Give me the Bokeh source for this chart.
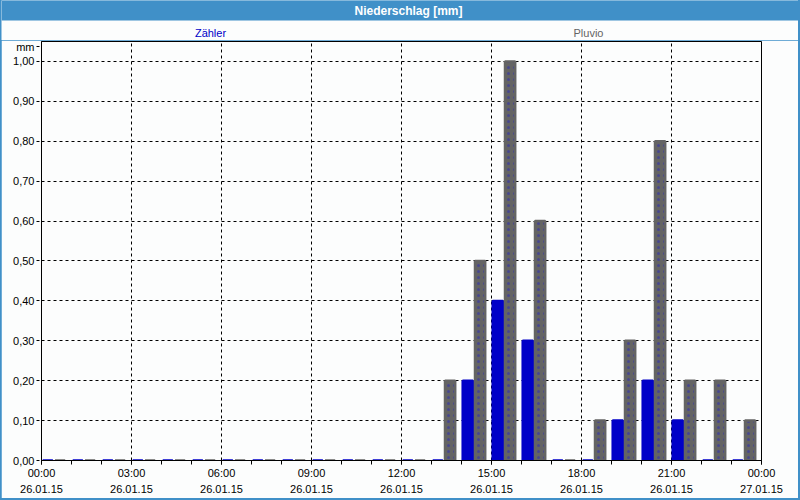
from bokeh.plotting import figure
from bokeh.models import ColumnDataSource, FixedTicker
from bokeh.layouts import column
from bokeh.embed import file_html
from bokeh.resources import INLINE
from bokeh.core.properties import value

# ---- data ----
hours = [0, 1, 2, 3, 4, 5, 6, 7, 8, 9, 10, 11, 12, 13, 14, 15, 16, 17, 18, 19, 20, 21, 22, 23]
zaehler = [0.0, 0.0, 0.0, 0.0, 0.0, 0.0, 0.0, 0.0, 0.0, 0.0, 0.0, 0.0, 0.0, 0.0,
           0.2, 0.4, 0.3, 0.0, 0.0, 0.1, 0.2, 0.1, 0.0, 0.0]
pluvio = [0.0, 0.0, 0.0, 0.0, 0.0, 0.0, 0.0, 0.0, 0.0, 0.0, 0.0, 0.0, 0.0,
          0.2, 0.5, 1.0, 0.6, 0.0, 0.1, 0.3, 0.8, 0.2, 0.2, 0.1]
x_ticks = [0, 3, 6, 9, 12, 15, 18, 21, 24]
x_tick_labels = ["00:00\n26.01.15", "03:00\n26.01.15", "06:00\n26.01.15", "09:00\n26.01.15",
                 "12:00\n26.01.15", "15:00\n26.01.15", "18:00\n26.01.15", "21:00\n26.01.15",
                 "00:00\n27.01.15"]
y_ticks = [0.0, 0.1, 0.2, 0.3, 0.4, 0.5, 0.6, 0.7, 0.8, 0.9, 1.0]
y_tick_labels = ["0,00", "0,10", "0,20", "0,30", "0,40", "0,50", "0,60", "0,70", "0,80", "0,90", "1,00"]
series_names = ["Zähler", "Pluvio"]
title_text = "Niederschlag [mm]"
unit_text = "mm"
unit_pos = 1.038   # where the unit caption sits on the value axis

FONT = "Liberation Sans"
BLUE = "#0000c8"
GRAY = "#646464"
BG = "#fcfdfd"
BAR_BLUE = "#4090c8"

# ---- header (title bar + series labels) ----
h = figure(width=797, height=40, x_range=(1, 798), y_range=(0, 40), title=None,
           output_backend="svg", toolbar_location=None,
           min_border=0, background_fill_color=BG, border_fill_color=BG)
h.frame_align = False
h.margin = (0, 2, 0, 1)
h.axis.visible = False
h.grid.visible = False
h.outline_line_color = None
h.quad(left=[1], right=[798], bottom=[20], top=[40], fill_color=BAR_BLUE, line_color=None)
h.text(x=[408], y=[30], text=[title_text], text_font=value(FONT), text_font_size="12px",
       text_font_style="bold", text_color="white", text_align="center", text_baseline="middle")
h.text(x=[210, 588], y=[8, 8], text=series_names, text_font=value(FONT), text_font_size="11px",
       text_color=[BLUE, GRAY], text_align="center", text_baseline="middle")

# ---- main chart ----
src = ColumnDataSource(dict(
    xz=[t + 0.21 for t in hours],
    xp=[t + 0.62 for t in hours],
    z=zaehler,
    pl=pluvio,
))

p = figure(width=797, height=458, x_range=(0, 24), y_range=(0, 1.05), title=None,
           output_backend="svg", toolbar_location=None,
           min_border_left=40, min_border_right=37, min_border_top=1, min_border_bottom=37,
           background_fill_color=BG, border_fill_color=BG)
p.margin = (0, 2, 2, 1)

p.vbar(x="xz", top="z", bottom=0, width=0.34, source=src,
       fill_color=BLUE, line_color=BLUE, line_width=2.5)
p.vbar(x="xp", top="pl", bottom=0, width=0.34, source=src,
       fill_color=GRAY, line_color=GRAY, line_width=2.5,
       hatch_pattern="dot", hatch_color="#3a3aa0", hatch_scale=6, hatch_weight=1, hatch_alpha=0.7)

p.outline_line_color = "black"
p.outline_line_width = 1

p.xaxis.ticker = FixedTicker(ticks=x_ticks, minor_ticks=hours + [24])
p.xaxis.major_label_overrides = {t: l for t, l in zip(x_ticks, x_tick_labels)}
p.xaxis.major_tick_out = 4
p.xaxis.major_tick_in = 0
p.xaxis.minor_tick_out = 4
p.xaxis.minor_tick_in = 0
p.xaxis.major_label_standoff = 2
p.xaxis.major_label_text_line_height = 1.4

y_label_map = {t: l for t, l in zip(y_ticks, y_tick_labels)}
y_label_map[unit_pos] = unit_text
p.yaxis.ticker = FixedTicker(ticks=y_ticks + [unit_pos], minor_ticks=[])
p.yaxis.major_label_overrides = y_label_map
p.yaxis.major_tick_out = 5
p.yaxis.major_tick_in = 0
p.yaxis.major_tick_line_dash = "3 3"
p.yaxis.major_label_standoff = 2

for ax in (p.xaxis, p.yaxis):
    ax.axis_line_color = "black"
    ax.major_tick_line_color = "black"
    ax.minor_tick_line_color = "black"
    ax.major_label_text_font = FONT
    ax.major_label_text_font_size = "11px"
    ax.major_label_text_color = "black"

p.xgrid.ticker = FixedTicker(ticks=x_ticks)
p.ygrid.ticker = FixedTicker(ticks=y_ticks)
for g in (p.xgrid, p.ygrid):
    g.grid_line_color = "black"
    g.grid_line_dash = "3 3"
    g.grid_line_width = 1

layout = column(h, p, spacing=0, styles={"background-color": BAR_BLUE})

open("out.html", "w").write(file_html(layout, INLINE))
